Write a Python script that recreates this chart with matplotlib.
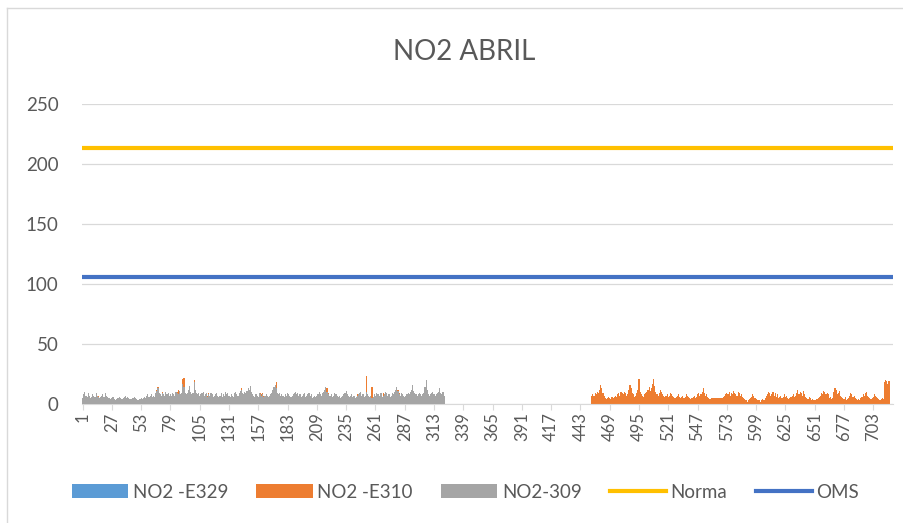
import numpy as np
import matplotlib
matplotlib.use("Agg")
import matplotlib.pyplot as plt
from matplotlib.patches import Patch
from matplotlib.lines import Line2D

plt.rcParams['font.family'] = ['Lato', 'DejaVu Sans']

title = "NO2 ABRIL"
series_names = ["NO2 -E329", "NO2 -E310", "NO2-309", "Norma", "OMS"]
n_hours = 720
norma_value = 213
oms_value = 106

# NO2-309 (hours 1..322)
no2_309 = [
    5,8,10,7,6,9,7,5,6,8,7,6,9,7,6,5,6,7,8,6,
    9,7,6,5,5,4,5,6,4,3,4,5,5,6,5,4,5,6,7,5,
    6,5,4,4,5,5,6,5,4,3,3,4,5,4,5,6,5,7,8,6,
    7,8,6,7,6,9,11,13,9,8,7,9,8,7,10,8,9,7,8,7,
    9,8,7,10,9,8,11,8,9,17,14,9,8,9,12,15,10,8,9,18,
    12,9,8,9,7,8,9,10,7,8,9,6,8,7,9,8,6,7,8,9,
    7,6,7,9,6,8,7,10,8,9,7,6,8,7,6,9,10,8,7,9,
    11,12,9,8,10,9,11,13,12,15,10,8,7,6,8,7,6,9,8,7,
    8,6,7,8,7,6,7,8,9,12,14,16,13,9,8,9,7,8,7,6,
    8,7,9,8,7,6,7,8,9,10,8,9,7,8,6,7,8,9,6,7,
    8,9,7,8,5,6,7,6,7,8,10,8,7,9,10,12,14,10,8,7,
    7,8,6,7,9,8,7,6,7,5,6,7,8,9,11,8,7,6,7,8,
    6,7,5,6,7,8,9,10,7,8,6,7,10,8,7,6,7,5,6,8,
    7,9,8,8,7,9,6,7,8,10,9,7,8,6,7,9,8,10,12,14,
    11,8,7,9,8,7,6,7,8,9,8,10,12,16,11,9,8,7,8,9,
    8,7,8,9,14,20,12,8,7,8,9,10,8,7,8,9,10,13,9,8,
    10,7,
]

# NO2 -E310, first block (hours 1..322)
no2_e310_a = [
    4,7,9,6,5,8,6,4,5,7,6,5,8,6,7,4,5,6,7,5,
    8,6,5,4,4,3,4,5,3,2,3,4,4,5,4,3,4,5,6,4,
    5,4,3,3,4,4,5,4,3,2,2,3,4,3,4,5,4,6,7,5,
    6,7,5,6,5,8,12,14,8,7,6,10,7,6,9,7,8,6,7,6,
    8,7,6,9,10,12,10,7,8,21,22,8,7,8,11,14,9,7,8,20,
    11,8,7,8,6,7,8,9,6,7,8,7,9,6,8,7,5,6,7,8,
    6,5,6,8,5,7,6,9,7,8,6,5,7,6,5,8,9,7,6,8,
    10,13,8,7,9,8,10,12,11,14,9,7,6,5,7,6,5,8,9,8,
    9,7,6,7,6,5,6,7,8,11,13,15,18,8,7,8,6,7,6,5,
    7,6,8,7,6,5,6,7,8,9,7,8,6,7,5,6,7,8,5,6,
    7,8,6,7,4,5,6,5,6,7,9,7,6,8,8,9,11,13,9,7,
    6,7,5,6,8,7,6,5,6,4,5,6,7,8,10,7,6,5,6,7,
    5,6,4,5,8,7,8,9,6,7,5,6,23,7,6,5,6,14,5,7,
    6,8,7,7,6,8,5,9,7,9,8,6,7,5,6,8,7,9,12,13,
    12,9,6,8,7,6,5,6,7,8,7,9,11,15,10,8,7,6,7,8,
    7,6,7,8,13,19,11,7,6,7,8,9,7,6,7,8,9,12,8,7,
    9,6,
]

# NO2 -E310, second block (hours 453..717)
e310_b_start = 453
no2_e310_b = [
    7,8,7,9,8,10,9,12,16,13,9,7,5,4,5,6,5,4,6,5,
    6,7,6,8,9,7,10,9,8,10,9,7,8,12,16,13,9,8,6,7,
    9,12,21,10,8,7,6,8,9,10,12,14,11,13,17,21,15,10,8,7,
    9,12,10,8,7,6,7,8,6,7,9,8,7,6,5,6,7,8,6,5,
    6,7,5,6,8,7,6,5,4,5,6,7,5,6,8,9,7,8,10,13,
    9,7,8,6,5,4,5,5,5,5,5,5,5,5,5,5,5,6,7,8,
    9,8,10,7,9,8,11,9,8,7,10,9,7,8,6,5,4,3,2,3,
    4,5,6,8,7,5,4,3,3,3,2,3,4,3,5,7,8,10,9,7,
    8,10,7,9,6,8,5,6,7,5,6,8,6,7,5,4,5,6,7,8,
    6,7,9,12,8,10,9,7,11,8,6,5,4,6,5,3,4,3,3,3,
    4,5,6,7,9,8,11,10,8,9,8,5,6,4,5,10,13,12,8,9,
    11,7,6,5,4,6,3,4,5,7,9,8,6,7,5,4,3,4,3,5,
    6,8,7,9,10,7,6,5,4,5,6,8,7,6,5,4,3,4,5,4,
    18,20,19,17,19,
]

# NO2 -E329 has no data in the period
no2_e329 = []

c_e329 = "#5B9BD5"
c_e310 = "#ED7D31"
c_309 = "#A5A5A5"
c_norma = "#FFC000"
c_oms = "#4472C4"
txt = "#595959"

fig = plt.figure(figsize=(9.04, 5.23), dpi=100)
ax = fig.add_axes([82/904, 1-404/523, (893-82)/904, 300/523])

xa = np.arange(1, len(no2_e310_a) + 1)
xb = np.arange(e310_b_start, e310_b_start + len(no2_e310_b))
xg = np.arange(1, len(no2_309) + 1)

ax.bar(xa, no2_e310_a, width=1.0, color=c_e310, linewidth=0, zorder=2)
ax.bar(xb, no2_e310_b, width=1.0, color=c_e310, linewidth=0, zorder=2)
ax.bar(xg, no2_309, width=1.0, color=c_309, linewidth=0, zorder=3)

ax.plot([0.5, n_hours + 0.5], [norma_value, norma_value], color=c_norma, lw=3, zorder=4, solid_capstyle='butt')
ax.plot([0.5, n_hours + 0.5], [oms_value, oms_value], color=c_oms, lw=3, zorder=4, solid_capstyle='butt')

ax.set_xlim(0.5, n_hours + 0.5)
ax.set_ylim(0, 250)
ax.set_yticks(np.arange(0, 251, 50))
ax.yaxis.grid(True, color="#D9D9D9", lw=0.9, zorder=0)
ax.set_axisbelow(True)
for s in ["top", "right", "left"]:
    ax.spines[s].set_visible(False)
ax.spines["bottom"].set_color("#D9D9D9")
ax.tick_params(axis='y', length=0, labelsize=13.5, labelcolor=txt, pad=17)
ticks = np.arange(1, n_hours + 1, 26)
ax.set_xticks(ticks)
ax.set_xticklabels([str(t) for t in ticks], rotation=90, fontsize=12, color=txt)
ax.tick_params(axis='x', length=4, color="#D9D9D9", pad=2)

fig.text(0.514, 1-52/523, title, ha='center', va='center', fontsize=20, color=txt)

handles = [
    Patch(facecolor=c_e329, edgecolor='none'),
    Patch(facecolor=c_e310, edgecolor='none'),
    Patch(facecolor=c_309, edgecolor='none'),
    Line2D([0], [0], color=c_norma, lw=3),
    Line2D([0], [0], color=c_oms, lw=3),
]
leg = fig.legend(handles, series_names, loc='center', bbox_to_anchor=(0.515, 1-492/523),
                 ncol=5, frameon=False, fontsize=13.5, handlelength=3.0, handleheight=0.7,
                 columnspacing=1.5, handletextpad=0.25)
for t in leg.get_texts():
    t.set_color(txt)

# chart area border
fig.add_artist(Line2D([7/904, 7/904], [0, 1-8/523], transform=fig.transFigure, color="#D9D9D9", lw=1))
fig.add_artist(Line2D([7/904, 1], [1-8/523, 1-8/523], transform=fig.transFigure, color="#D9D9D9", lw=1))

fig.savefig("out.png", dpi=100)
